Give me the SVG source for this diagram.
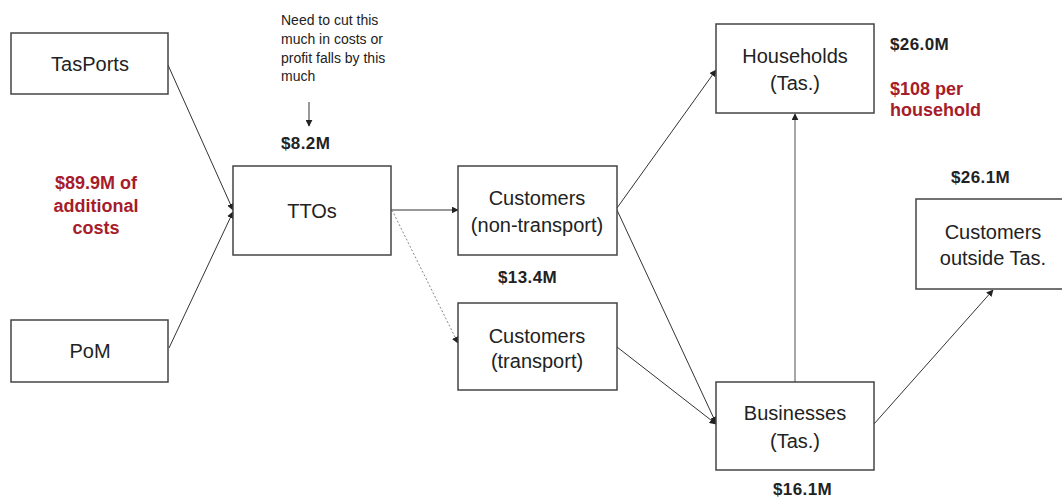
<svg xmlns="http://www.w3.org/2000/svg" width="1062" height="500" viewBox="0 0 1062 500">
<style>
.box{fill:#fff;stroke:#444;stroke-width:1.5}
.lbl{font-family:"Liberation Sans",Arial,sans-serif;font-size:20px;fill:#222;text-anchor:middle}
.note{font-family:"Liberation Sans",Arial,sans-serif;font-size:14px;fill:#222}
.num{font-family:"Liberation Sans",Arial,sans-serif;font-size:17px;font-weight:bold;fill:#222;letter-spacing:0.4px}
.red{font-family:"Liberation Sans",Arial,sans-serif;font-size:18px;font-weight:bold;fill:#a61c2a}
.c{fill:none;stroke:#333;stroke-width:1}
.dot{fill:none;stroke:#888;stroke-width:1;stroke-dasharray:2 2}
.gray{fill:none;stroke:#888;stroke-width:1.5}
</style>
<defs>
<marker id="ah" viewBox="0 0 10 10" refX="9" refY="5" markerWidth="7" markerHeight="7" markerUnits="userSpaceOnUse" orient="auto">
<path d="M0,0 L10,5 L0,10 z" fill="#222"/>
</marker>
</defs>
<g id="connectors">
<path class="c" d="M168,65 L233,210" marker-end="url(#ah)"/>
<path class="c" d="M169,348 L233,212" marker-end="url(#ah)"/>
<path class="c" d="M391,210 L458,210" marker-end="url(#ah)"/>
<path class="dot" d="M392,210 L458,343" marker-end="url(#ah)"/>
<path class="c" d="M617,208 L716,70" marker-end="url(#ah)"/>
<path class="c" d="M617,210 L716,423" marker-end="url(#ah)"/>
<path class="c" d="M617,347 L716,424" marker-end="url(#ah)"/>
<path class="gray" d="M795,382 L795,114" marker-end="url(#ah)"/>
<path class="c" d="M874,424 L993,290" marker-end="url(#ah)"/>
<path class="c" d="M309,102 L309,126" marker-end="url(#ah)"/>
</g>
<g id="tasports"><rect class="box" x="11" y="33" width="157" height="61"/><text class="lbl" x="90" y="71">TasPorts</text></g>
<g id="pom"><rect class="box" x="11" y="320" width="157" height="62"/><text class="lbl" x="90" y="358">PoM</text></g>
<g id="ttos"><rect class="box" x="233" y="166" width="158" height="89"/><text class="lbl" x="312" y="218">TTOs</text></g>
<g id="cust-nontransport"><rect class="box" x="458" y="166" width="159" height="89"/><text class="lbl" x="537" y="205">Customers</text><text class="lbl" x="537" y="232">(non-transport)</text></g>
<g id="cust-transport"><rect class="box" x="458" y="303" width="159" height="87"/><text class="lbl" x="537" y="343">Customers</text><text class="lbl" x="537" y="368">(transport)</text></g>
<g id="households"><rect class="box" x="716" y="24" width="158" height="89"/><text class="lbl" x="795" y="63">Households</text><text class="lbl" x="795" y="90">(Tas.)</text></g>
<g id="businesses"><rect class="box" x="716" y="382" width="158" height="88"/><text class="lbl" x="795" y="420">Businesses</text><text class="lbl" x="795" y="448">(Tas.)</text></g>
<g id="cust-outside"><rect class="box" x="916" y="199" width="150" height="90"/><text class="lbl" x="993" y="239">Customers</text><text class="lbl" x="993" y="265">outside Tas.</text></g>
<g id="labels">
<text class="note" x="281"><tspan x="281" y="25">Need to cut this</tspan><tspan x="281" y="44">much in costs or</tspan><tspan x="281" y="63">profit falls by this</tspan><tspan x="281" y="81">much</tspan></text>
<text class="num" x="281" y="149">$8.2M</text>
<text class="red" text-anchor="middle"><tspan x="96" y="189">$89.9M of</tspan><tspan x="96" y="212">additional</tspan><tspan x="96" y="234">costs</tspan></text>
<text class="num" x="498" y="283">$13.4M</text>
<text class="num" x="890" y="50">$26.0M</text>
<text class="red"><tspan x="890" y="95">$108 per</tspan><tspan x="890" y="116">household</tspan></text>
<text class="num" x="951" y="183">$26.1M</text>
<text class="num" x="773" y="495">$16.1M</text>
</g>
</svg>
